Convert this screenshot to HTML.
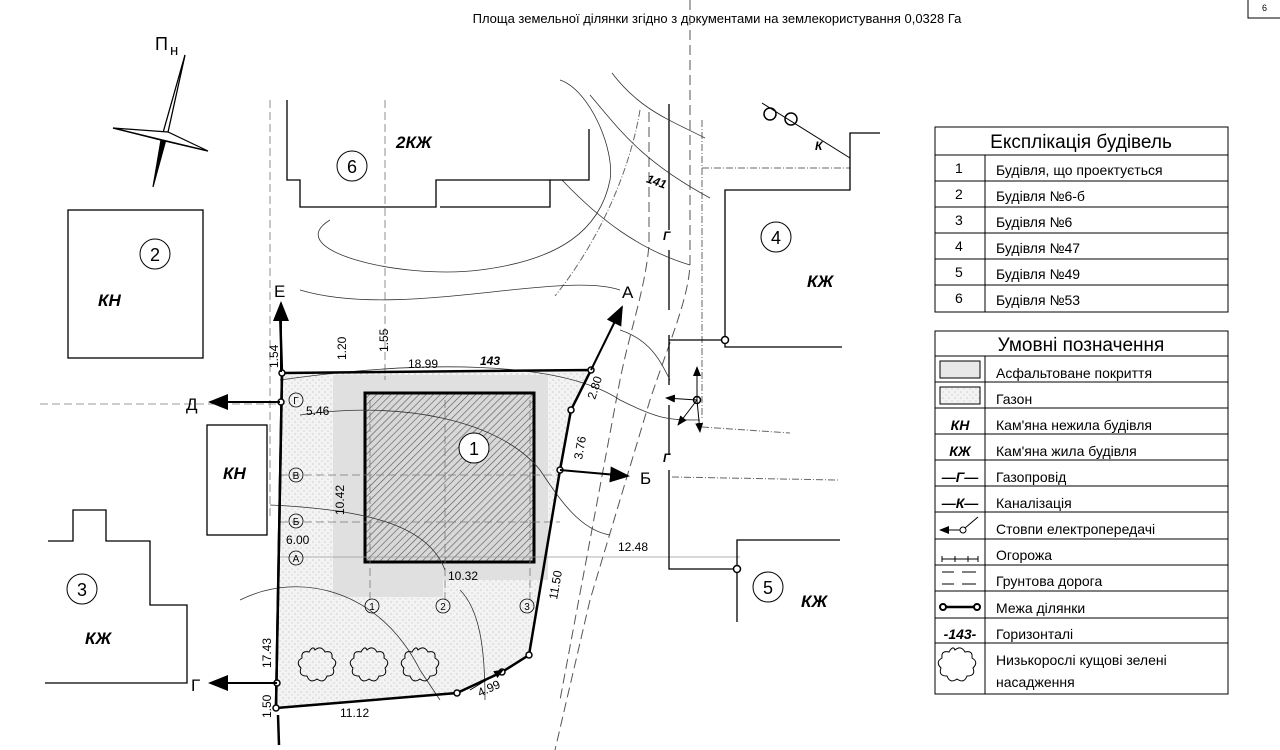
<!DOCTYPE html>
<html><head><meta charset="utf-8"><style>
body{margin:0;background:#fff}
svg{display:block;font-family:"Liberation Sans",sans-serif}
</style></head><body>
<svg width="1280" height="750" viewBox="0 0 1280 750" xmlns="http://www.w3.org/2000/svg">
<defs>
<pattern id="h" width="5" height="5" patternUnits="userSpaceOnUse" patternTransform="rotate(45)"><rect width="5" height="5" fill="#d8d8d8"/><line x1="0" y1="0" x2="0" y2="5" stroke="#555" stroke-width="1.2"/></pattern>
<pattern id="d" width="6" height="6" patternUnits="userSpaceOnUse"><rect width="6" height="6" fill="#f3f3f3"/><circle cx="1" cy="2" r="0.5" fill="#999"/><circle cx="4" cy="5" r="0.5" fill="#aaa"/></pattern>
<marker id="ar" markerWidth="10" markerHeight="8" refX="9" refY="4" orient="auto"><path d="M0,0 L10,4 L0,8 z" fill="#000"/></marker>
</defs>
<text x="717" y="23" font-size="13" text-anchor="middle">Площа земельної ділянки згідно з документами на землекористування 0,0328 Га</text>
<rect x="1248" y="-2" width="33" height="20" fill="none" stroke="#000"/><text x="1262" y="11" font-size="9">6</text>
<!-- north -->
<g stroke="#000" fill="#fff" stroke-width="1.2">
<path d="M185,55 L168,132 L153,187 L161,140 Z" fill="#000"/>
<path d="M185,55 L168,132 L161,140 Z"/>
<path d="M113,128 L168,132 L208,151 L161,140 Z"/>
<path d="M113,128 L161,140 L208,151Z" fill="#000"/>
</g>
<text x="155" y="50" font-size="18">П</text><text x="170" y="55" font-size="15">н</text>
<!-- lawn + asphalt -->
<path d="M282,373 L591,370 L571,410 L560,470 L529,655 L502,672 L457,693 L276,708 Z" fill="url(#d)"/>
<path d="M333,375 L548,375 L548,580 L443,580 L443,597 L333,597 Z" fill="#e0e0e0"/>
<rect x="365" y="393" width="169" height="169" fill="url(#h)" stroke="#000" stroke-width="3"/>
<!-- grid lines -->
<g stroke="#777" stroke-width="0.8" stroke-dasharray="8,4" fill="none">
<line x1="270" y1="100" x2="270" y2="520"/><line x1="385" y1="100" x2="385" y2="380"/>
<line x1="40" y1="404" x2="280" y2="404"/><line x1="280" y1="475" x2="560" y2="475"/>
<line x1="280" y1="522" x2="560" y2="522"/>
<line x1="445" y1="400" x2="445" y2="600"/><line x1="370" y1="400" x2="370" y2="600"/>
<line x1="530" y1="400" x2="530" y2="600"/>
</g>
<line x1="280" y1="557" x2="740" y2="557" stroke="#999" stroke-width="0.8"/>
<!-- road -->
<g stroke="#555" stroke-width="1" stroke-dasharray="10,5" fill="none">
<path d="M690,0 L690,265 C688,300 670,340 650,400 L590,600 L555,750"/>
<path d="M649,112 L649,245 C645,290 630,330 620,380 L560,700"/>
</g>
<!-- fences -->
<g stroke="#666" stroke-width="1" stroke-dasharray="7,2,1,2" fill="none">
<path d="M702,120 L702,420"/><path d="M702,168 L850,168"/>
<path d="M702,427 L790,433"/><path d="M672,477 L838,480"/>
<path d="M640,110 C630,170 600,240 555,296"/>
</g>
<!-- gas line -->
<g stroke="#000" stroke-width="1.3" fill="none">
<path d="M669,104 L669,230 M669,250 L669,310 M669,335 L669,385 M669,405 L669,455 M669,470 L669,569 L737,569"/>
<path d="M669,340 L725,340"/>
</g>
<!-- contours -->
<g stroke="#333" stroke-width="0.8" fill="none">
<path d="M300,290 C400,320 560,270 620,290"/>
<path d="M280,380 C420,360 560,360 620,400 C660,420 670,420 700,420"/>
<path d="M330,220 C280,250 400,280 480,270 C560,260 600,230 610,180 C615,150 590,90 560,80"/>
<path d="M300,415 C400,400 500,420 540,470 C560,500 580,530 610,535"/>
<path d="M270,505 C380,510 430,530 445,570"/>
<path d="M240,600 C300,570 380,590 420,670 L440,700"/>
<path d="M460,590 C480,610 485,650 485,700"/>
<path d="M562,180 C600,220 640,250 690,265"/>
<path d="M590,95 C620,130 640,160 710,198"/>
<path d="M612,73 C640,110 670,120 705,138"/>
<path d="M620,330 C650,340 660,360 670,380"/>
</g>
<text x="480" y="365" font-size="12" font-weight="bold" font-style="italic">143</text>
<text x="647" y="185" font-size="12" font-weight="bold" font-style="italic" transform="rotate(20 655 180)">141</text>
<!-- buildings -->
<g stroke="#000" stroke-width="1.3" fill="none">
<path d="M287,100 L287,180 L300,180 L300,207 L436,207 L436,180 L550,180 L550,207 L440,207"/>
<path d="M550,180 L589,180 L589,129"/>
<rect x="68" y="210" width="135" height="148"/>
<rect x="207" y="425" width="60" height="110"/>
<path d="M48,541 L73,541 L73,510 L106,510 L106,541 L150,541 L150,605 L187,605 L187,683 L45,683"/>
<path d="M880,133 L850,133 L850,190 L725,190 L725,347 L842,347"/>
<path d="M737,622 L737,540 L840,540"/>
</g>
<path d="M440,207 L550,207" stroke="#000" stroke-dasharray="6,3"/>
<!-- plot boundary -->
<path d="M282,373 L591,370 L571,410 L560,470 L529,655 L502,672 L457,693 L276,708 Z" fill="none" stroke="#000" stroke-width="2.5"/>
<path d="M278,715 L279,745 M282,373 L280,310 M276,708 L282,373" stroke="#000" stroke-width="2.5"/>
<g fill="#fff" stroke="#000" stroke-width="1.5">
<circle cx="282" cy="373" r="3"/><circle cx="281" cy="402" r="3"/><circle cx="591" cy="370" r="3"/><circle cx="571" cy="410" r="3"/><circle cx="560" cy="470" r="3"/><circle cx="529" cy="655" r="3"/><circle cx="502" cy="672" r="3"/><circle cx="457" cy="693" r="3"/><circle cx="276" cy="708" r="3"/><circle cx="277" cy="683" r="3"/>
<circle cx="725" cy="340" r="3.5"/><circle cx="697" cy="400" r="3.5"/><circle cx="737" cy="569" r="3.5"/>
<circle cx="770" cy="114" r="6"/><circle cx="791" cy="119" r="6"/>
</g>
<line x1="762" y1="103" x2="850" y2="158" stroke="#000"/>
<text x="815" y="150" font-size="12" font-weight="bold" font-style="italic">К</text>
<!-- section arrows -->
<g stroke="#000" stroke-width="2" marker-end="url(#ar)">
<line x1="281" y1="372" x2="281" y2="303"/>
<line x1="280" y1="402" x2="210" y2="402"/>
<line x1="591" y1="370" x2="622" y2="307"/>
<line x1="560" y1="470" x2="628" y2="476"/>
<line x1="277" y1="683" x2="210" y2="683"/>
</g>
<g font-size="17"><text x="274" y="297">Е</text><text x="186" y="410">Д</text><text x="622" y="298">А</text><text x="640" y="484">Б</text><text x="191" y="691">Г</text></g>
<!-- labels -->
<g font-size="12">
<text x="408" y="368">18.99</text><text x="306" y="415">5.46</text><text x="286" y="544">6.00</text>
<text x="618" y="551">12.48</text><text x="448" y="580">10.32</text><text x="340" y="717">11.12</text>
<text transform="translate(278,368) rotate(-90)">1.54</text>
<text transform="translate(346,360) rotate(-90)">1.20</text>
<text transform="translate(388,352) rotate(-90)">1.55</text>
<text transform="translate(344,515) rotate(-90)">10.42</text>
<text transform="translate(271,668) rotate(-90)">17.43</text>
<text transform="translate(271,718) rotate(-90)">1.50</text>
<text transform="translate(595,400) rotate(-72)">2.80</text>
<text transform="translate(582,460) rotate(-80)">3.76</text>
<text transform="translate(557,600) rotate(-80)">11.50</text>
<text transform="translate(480,697) rotate(-25)">4.99</text>
</g>
<g fill="none" stroke="#000" stroke-width="0.8">
<circle cx="296" cy="400" r="7"/><circle cx="296" cy="475" r="7"/><circle cx="296" cy="521" r="7"/><circle cx="296" cy="558" r="7"/>
<circle cx="372" cy="606" r="7"/><circle cx="443" cy="606" r="7"/><circle cx="527" cy="606" r="7"/>
</g>
<g font-size="10" text-anchor="middle"><text x="296" y="404">Г</text><text x="296" y="479">В</text><text x="296" y="525">Б</text><text x="296" y="562">А</text><text x="372" y="610">1</text><text x="443" y="610">2</text><text x="527" y="610">3</text></g>
<g fill="#fff" stroke="#000"><circle cx="474" cy="448" r="15"/><circle cx="352" cy="166" r="15"/><circle cx="155" cy="254" r="15"/><circle cx="776" cy="237" r="15"/><circle cx="82" cy="589" r="15"/><circle cx="768" cy="587" r="15"/></g>
<g font-size="18" text-anchor="middle"><text x="474" y="455">1</text><text x="352" y="173">6</text><text x="155" y="261">2</text><text x="776" y="244">4</text><text x="82" y="596">3</text><text x="768" y="594">5</text></g>
<g font-size="17" font-weight="bold" font-style="italic">
<text x="396" y="148">2КЖ</text><text x="98" y="306">КН</text><text x="223" y="479">КН</text><text x="85" y="644">КЖ</text><text x="807" y="287">КЖ</text><text x="801" y="607">КЖ</text>
</g>
<g font-size="12" font-weight="bold" font-style="italic"><text x="663" y="240">Г</text><text x="663" y="462">Г</text></g>
<!-- bushes -->
<g fill="none" stroke="#000" stroke-width="1">
<path id="b" d="M315,650 q6,-5 10,2 q8,-2 7,6 q7,4 1,10 q3,8 -6,8 q-3,8 -10,3 q-7,5 -10,-3 q-9,0 -6,-8 q-6,-6 1,-10 q-1,-8 7,-6 q4,-7 6,-2z"/>
<use href="#b" x="52"/><use href="#b" x="103"/>
</g>
<!-- power pole arrows -->
<g stroke="#000" stroke-width="1" marker-end="url(#ar)"><line x1="697" y1="400" x2="666" y2="398"/><line x1="697" y1="400" x2="697" y2="367"/><line x1="697" y1="400" x2="678" y2="425"/><line x1="697" y1="400" x2="700" y2="432"/><line x1="470" y1="690" x2="503" y2="670"/></g>
<!-- legend 1 -->
<g stroke="#000" fill="none" stroke-width="1">
<rect x="935" y="127" width="293" height="185"/>
<line x1="935" y1="155" x2="1228" y2="155"/><line x1="935" y1="181" x2="1228" y2="181"/><line x1="935" y1="207" x2="1228" y2="207"/><line x1="935" y1="233" x2="1228" y2="233"/><line x1="935" y1="259" x2="1228" y2="259"/><line x1="935" y1="285" x2="1228" y2="285"/>
<line x1="985" y1="155" x2="985" y2="312"/>
<rect x="935" y="331" width="293" height="363"/>
<line x1="935" y1="356" x2="1228" y2="356"/><line x1="935" y1="382" x2="1228" y2="382"/><line x1="935" y1="408" x2="1228" y2="408"/><line x1="935" y1="434" x2="1228" y2="434"/><line x1="935" y1="460" x2="1228" y2="460"/><line x1="935" y1="486" x2="1228" y2="486"/><line x1="935" y1="512" x2="1228" y2="512"/><line x1="935" y1="539" x2="1228" y2="539"/><line x1="935" y1="565" x2="1228" y2="565"/><line x1="935" y1="591" x2="1228" y2="591"/><line x1="935" y1="618" x2="1228" y2="618"/><line x1="935" y1="643" x2="1228" y2="643"/>
<line x1="985" y1="356" x2="985" y2="694"/>
</g>
<text x="1081" y="148" font-size="19" text-anchor="middle">Експлікація будівель</text>
<text x="1081" y="351" font-size="19" text-anchor="middle">Умовні позначення</text>
<g font-size="14">
<text x="955" y="173">1</text><text x="955" y="199">2</text><text x="955" y="225">3</text><text x="955" y="251">4</text><text x="955" y="277">5</text><text x="955" y="303">6</text>
<text x="996" y="175">Будівля, що проектується</text><text x="996" y="201">Будівля №6-б</text><text x="996" y="227">Будівля №6</text><text x="996" y="253">Будівля №47</text><text x="996" y="279">Будівля №49</text><text x="996" y="305">Будівля №53</text>
<text x="996" y="378">Асфальтоване покриття</text><text x="996" y="404">Газон</text><text x="996" y="430">Кам'яна нежила будівля</text><text x="996" y="456">Кам'яна жила будівля</text><text x="996" y="482">Газопровід</text><text x="996" y="508">Каналізація</text><text x="996" y="534">Стовпи електропередачі</text><text x="996" y="560">Огорожа</text><text x="996" y="586">Грунтова дорога</text><text x="996" y="613">Межа ділянки</text><text x="996" y="639">Горизонталі</text><text x="996" y="665">Низькорослі кущові зелені</text><text x="996" y="687">насадження</text>
</g>
<rect x="940" y="361" width="40" height="17" fill="#e8e8e8" stroke="#000"/>
<rect x="940" y="387" width="40" height="17" fill="url(#d)" stroke="#000"/>
<g font-size="14" font-weight="bold" font-style="italic" text-anchor="middle"><text x="960" y="430">КН</text><text x="960" y="456">КЖ</text><text x="960" y="482">—Г—</text><text x="960" y="508">—К—</text><text x="960" y="639">-143-</text></g>
<g stroke="#000" fill="none"><line x1="940" y1="530" x2="960" y2="530" marker-end="url(#ar)" transform="rotate(180 950 530)"/><circle cx="963" cy="530" r="3"/><line x1="965" y1="528" x2="978" y2="517"/>
<path d="M942,556 v6 M942,559 h36 M955,556 v6 M968,556 v6 M978,556 v6"/>
<path d="M942,572 h12 M962,572 h14 M942,584 h12 M962,584 h14"/>
<line x1="945" y1="607" x2="975" y2="607" stroke-width="2.5"/><circle cx="943" cy="607" r="3" fill="#fff" stroke-width="2"/><circle cx="977" cy="607" r="3" fill="#fff" stroke-width="2"/>
<path d="M955,650 q6,-5 10,2 q8,-2 7,6 q7,4 1,10 q3,8 -6,8 q-3,8 -10,3 q-7,5 -10,-3 q-9,0 -6,-8 q-6,-6 1,-10 q-1,-8 7,-6 q4,-7 6,-2z"/></g>
</svg>
</body></html>
